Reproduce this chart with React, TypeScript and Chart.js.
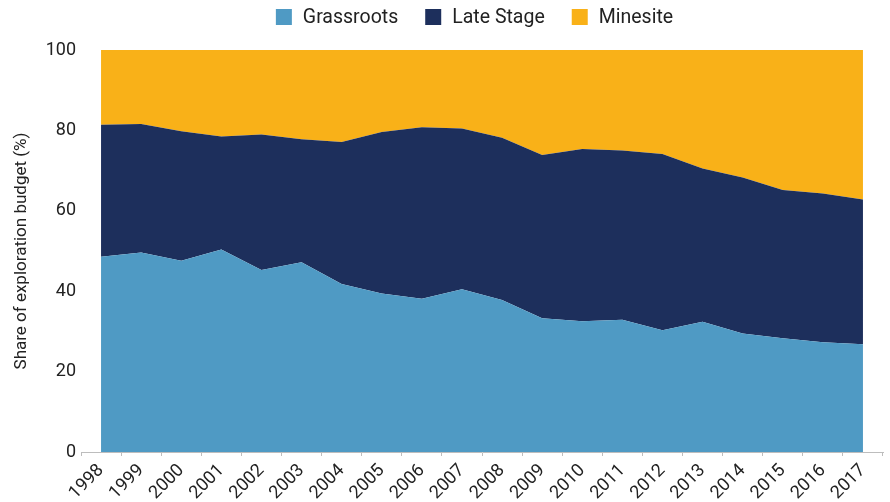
import React, { useEffect, useRef } from 'react';
import { Chart, registerables } from 'chart.js';

Chart.register(...registerables);

const years = ['1998', '1999', '2000', '2001', '2002', '2003', '2004', '2005', '2006', '2007', '2008', '2009', '2010', '2011', '2012', '2013', '2014', '2015', '2016', '2017'];
const grassroots = [48.6, 49.6, 47.6, 50.4, 45.3, 47.2, 41.8, 39.4, 38.1, 40.5, 37.8, 33.3, 32.5, 32.9, 30.3, 32.4, 29.5, 28.3, 27.3, 26.8];
const lateStage = [32.8, 32.0, 32.2, 28.1, 33.7, 30.6, 35.3, 40.2, 42.7, 40.0, 40.4, 40.6, 42.9, 42.1, 43.8, 38.1, 38.8, 36.9, 37.0, 36.0];
const minesite = [18.6, 18.4, 20.2, 21.5, 21.0, 22.2, 22.9, 20.4, 19.2, 19.5, 21.8, 26.1, 24.6, 25.0, 25.9, 29.5, 31.7, 34.8, 35.7, 37.2];
const seriesNames = ['Grassroots', 'Late Stage', 'Minesite'];
const seriesColors = ['#4f9ac4', '#1d2f5c', '#f9b118'];

const FONT = "Roboto, 'Liberation Sans', Arial, sans-serif";
const TEXT = '#222222';

const legendPlugin = {
  id: 'customLegend',
  afterDraw(chart: any) {
    const ctx = chart.ctx;
    ctx.save();
    ctx.font = `19.5px ${FONT}`;
    ctx.textBaseline = 'middle';
    ctx.textAlign = 'left';
    const box = 16;
    const gapText = 11;
    const gapItem = 27;
    const widths = seriesNames.map((n) => ctx.measureText(n).width);
    let total = 0;
    widths.forEach((w, i) => {
      total += box + gapText + w + (i < widths.length - 1 ? gapItem : 0);
    });
    let x = 474.5 - total / 2;
    const cy = 17;
    seriesNames.forEach((n, i) => {
      ctx.fillStyle = seriesColors[i];
      ctx.fillRect(x, cy - box / 2, box, box);
      ctx.fillStyle = TEXT;
      ctx.fillText(n, x + box + gapText, cy + 1);
      x += box + gapText + widths[i] + gapItem;
    });
    ctx.restore();
  },
};

export default function App() {
  const ref = useRef<HTMLCanvasElement | null>(null);
  useEffect(() => {
    document.body.style.margin = '0';
    const canvas = ref.current;
    if (!canvas) return;
    const series = [grassroots, lateStage, minesite];
    const chart = new Chart(canvas, {
      type: 'line',
      data: {
        labels: years,
        datasets: series.map((d, i) => ({
          label: seriesNames[i],
          data: d,
          backgroundColor: seriesColors[i],
          borderColor: seriesColors[i],
          borderWidth: 0,
          pointRadius: 0,
          tension: 0,
          fill: i === 0 ? 'origin' : '-1',
        })),
      },
      options: {
        animation: false,
        responsive: false,
        maintainAspectRatio: false,
        layout: { padding: { top: 50, right: 7, bottom: 0, left: 0 } },
        plugins: {
          legend: { display: false },
          tooltip: { enabled: false },
        },
        elements: { line: { borderWidth: 0 } },
        scales: {
          x: {
            offset: true,
            grid: {
              offset: true,
              drawOnChartArea: false,
              drawTicks: true,
              tickLength: 4,
              color: '#bdbdbd',
            },
            border: { display: true, color: '#bdbdbd' },
            ticks: {
              maxRotation: 45,
              minRotation: 45,
              autoSkip: false,
              font: { family: FONT, size: 18 },
              color: TEXT,
              padding: 4,
            },
            afterFit: (s: any) => {
              s.height = 50;
            },
          },
          y: {
            stacked: true,
            min: 0,
            max: 100,
            grid: { display: false, drawTicks: false },
            border: { display: false },
            ticks: {
              stepSize: 20,
              font: { family: FONT, size: 18 },
              color: TEXT,
              padding: 5,
            },
            title: {
              display: true,
              text: 'Share of exploration budget (%)',
              font: { family: FONT, size: 17 },
              color: TEXT,
              padding: { top: 12, bottom: 0 },
            },
            afterFit: (s: any) => {
              s.width = 81;
            },
          },
        },
      },
      plugins: [legendPlugin],
    });
    return () => chart.destroy();
  }, []);
  return (
    <div style={{ width: 890, height: 502, position: 'relative' }}>
      <canvas ref={ref} width={890} height={502} />
    </div>
  );
}
